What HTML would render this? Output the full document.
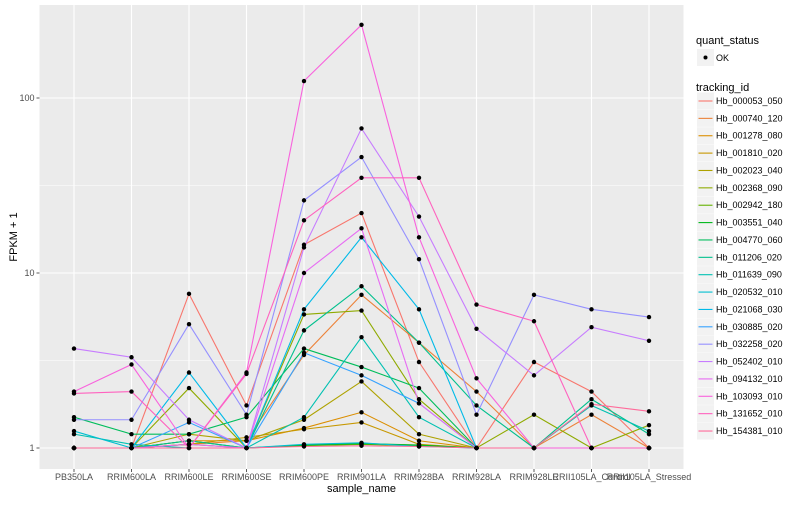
<!DOCTYPE html>
<html><head><meta charset="utf-8"><style>
body{margin:0;background:#fff;font-family:"Liberation Sans",sans-serif}
svg text{font-family:"Liberation Sans",sans-serif}
</style></head><body>
<svg id="c" width="800" height="500" xmlns="http://www.w3.org/2000/svg"></svg>
<script>
const categories=["PB350LA","RRIM600LA","RRIM600LE","RRIM600SE","RRIM600PE","RRIM901LA","RRIM928BA","RRIM928LA","RRIM928LE","RRII105LA_Control","RRII105LA_Stressed"];
const seriesNames=["Hb_000053_050","Hb_000740_120","Hb_001278_080","Hb_001810_020","Hb_002023_040","Hb_002368_090","Hb_002942_180","Hb_003551_040","Hb_004770_060","Hb_011206_020","Hb_011639_090","Hb_020532_010","Hb_021068_030","Hb_030885_020","Hb_032258_020","Hb_052402_010","Hb_094132_010","Hb_103093_010","Hb_131652_010","Hb_154381_010"];
const colors=["#F8766D","#EC8239","#DB8E00","#C79800","#AEA200","#8FAA00","#64B200","#00B81B","#00BD5C","#00C08D","#00C1B2","#00BFD0","#00BAE8","#35A2FF","#9590FF","#C77CFF","#E76BF3","#F962DD","#FF62BF","#FF6A9A"];
const s000053=[1,1,7.6,1.75,14.5,22,3.1,1,3.1,2.1,1];
const s000740=[1,1,1.05,1.1,3.4,7.5,4.0,2.1,1,1.55,1];
const s001278=[1,1,1.1,1.1,1.3,1.6,1.1,1,1,1,1];
const s001810=[1,1,1.05,1.15,1.28,1.4,1.05,1,1,1,1];
const s002023=[1,1,1.2,1.1,1.45,2.4,1.2,1,1,1,1];
const s002368=[1,1,2.2,1,5.8,6.1,1.9,1,1.55,1,1.35];
const s002942=[1,1,1.05,1,1.03,1.05,1.03,1,1,1,1];
const s003551=[1,1,1.1,1,1.04,1.06,1.04,1,1,1,1];
const s004770=[1.5,1.2,1.2,1.5,3.7,2.9,2.2,1,1,1,1];
const s011206=[1,1,1.1,1,4.7,8.4,4.0,1.75,1,1.9,1.2];
const s011639=[1.2,1.05,1,1,1.5,4.3,1.5,1,1,1.75,1.25];
const s020532=[1.25,1,1,1,1.05,1.07,1.02,1,1,1,1];
const s021068=[1,1,2.7,1,6.2,16,6.2,1,1,1,1];
const s030885=[1,1,1.4,1,3.5,2.6,1.8,1,1,1,1];
const s032258=[1.45,1.45,5.1,1.55,26,46,12,1.55,7.5,6.2,5.6];
const s052402=[3.7,3.3,1.45,1,14,67,21,4.8,2.6,4.9,4.1];
const s094132=[1,1,1.05,1,10,18,1.8,1,1,1,1];
const s103093=[2.1,3.0,1,2.7,125,262,16,2.5,1,1,1];
const s131652=[2.05,2.1,1,2.65,20,35,35,6.6,5.3,1,1];
const s154381=[1,1,1,1,1.02,1.03,1.02,1,1,1.78,1.62];
const seriesValues=[s000053,s000740,s001278,s001810,s002023,s002368,s002942,s003551,s004770,s011206,s011639,s020532,s021068,s030885,s032258,s052402,s094132,s103093,s131652,s154381];
const yTicks=[1,10,100];
const yTickLabels=["1","10","100"];
const yMinor=[3.1623,31.623];

const NS="http://www.w3.org/2000/svg";
const svg=document.getElementById('c');
const P={l:39.5,r:683.5,t:5,b:469};
const xS=i=>74+57.5*i;
const yS=v=>448-175*Math.log10(v);
function mk(t,a,p){const e=document.createElementNS(NS,t);for(const k in a)e.setAttribute(k,a[k]);(p||svg).appendChild(e);return e;}

const panel=mk('rect',{x:P.l,y:P.t,width:P.r-P.l,height:P.b-P.t,fill:'#EBEBEB'});


yMinor.forEach(v=>{const l=mk('line',{x1:P.l,x2:P.r,y1:yS(v),y2:yS(v),stroke:'#fff','stroke-width':0.5});

});
yTicks.forEach((v,i)=>{const l=mk('line',{x1:P.l,x2:P.r,y1:yS(v),y2:yS(v),stroke:'#fff','stroke-width':1.1});


const t=mk('line',{x1:P.l-3,x2:P.l,y1:yS(v),y2:yS(v),stroke:'#333','stroke-width':0.8});


const tx=mk('text',{x:P.l-5,y:yS(v)+3,'text-anchor':'end','font-size':9,fill:'#4D4D4D'});tx.textContent=yTickLabels[i];

});
categories.forEach((c,i)=>{const l=mk('line',{x1:xS(i),x2:xS(i),y1:P.t,y2:P.b,stroke:'#fff','stroke-width':1.1});


const t=mk('line',{x1:xS(i),x2:xS(i),y1:P.b,y2:P.b+3,stroke:'#333','stroke-width':0.8});


const tx=mk('text',{x:xS(i),y:P.b+11,'text-anchor':'middle','font-size':9,fill:'#4D4D4D'});tx.textContent=c;

});

seriesValues.forEach((vals,s)=>{
 const pl=mk('polyline',{points:vals.map((v,i)=>xS(i)+','+yS(v)).join(' '),fill:'none',stroke:colors[s],'stroke-width':1.1});
 
 
});
seriesValues.forEach((vals,s)=>{vals.forEach((v,i)=>{
 const c=mk('circle',{cx:xS(i),cy:yS(v),r:2.2,fill:'#000'});
 
 
});});

const xt=mk('text',{x:(P.l+P.r)/2,y:492,'text-anchor':'middle','font-size':11,fill:'#000'});xt.textContent='sample_name';


const yt=mk('text',{x:0,y:0,transform:'translate(17,237) rotate(-90)','text-anchor':'middle','font-size':11,fill:'#000'});yt.textContent='FPKM + 1';



const lg=mk('g',{});


const q=mk('text',{x:696,y:44,'font-size':11,fill:'#000'},lg);q.textContent='quant_status';


const qb=mk('rect',{x:697,y:49,width:17,height:17,fill:'#F2F2F2'},lg);


mk('circle',{cx:705.5,cy:57.5,r:2,fill:'#000'},lg);
const ok=mk('text',{x:716,y:61,'font-size':9,fill:'#000'},lg);ok.textContent='OK';


const tr=mk('text',{x:696,y:91,'font-size':11,fill:'#000'},lg);tr.textContent='tracking_id';


seriesNames.forEach((n,i)=>{const y=101+17.37*i;
 const b=mk('rect',{x:697,y:y-8.5,width:17,height:17,fill:'#F2F2F2'},lg);
 
 
 mk('line',{x1:698.5,x2:712.5,y1:y,y2:y,stroke:colors[i],'stroke-width':1.1},lg);
 const t=mk('text',{x:716,y:y+3,'font-size':9,fill:'#000'},lg);t.textContent=n;
 
 
});
</script>
</body></html>
